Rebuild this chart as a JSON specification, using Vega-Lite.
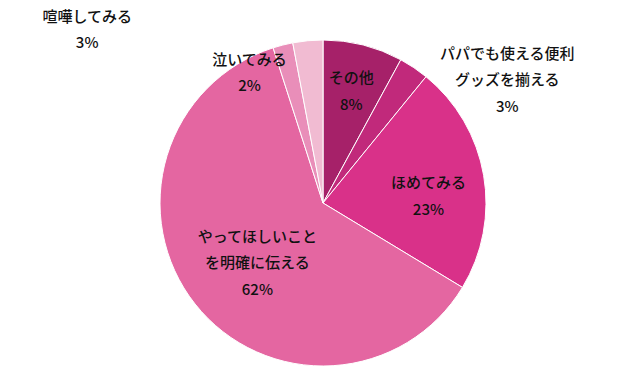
{
  "$schema": "https://vega.github.io/schema/vega-lite/v6.json",
  "autosize": "none",
  "width": 326,
  "height": 326,
  "padding": {"left": 160, "top": 40, "right": 154, "bottom": 18},
  "background": "white",
  "config": {"view": {"stroke": null}},
  "data": {"values": [
    {"key": "その他", "rank": 1, "value": 8, "text": "その他\n8%"},
    {"key": "パパでも使える便利グッズを揃える", "rank": 2, "value": 3, "text": "パパでも使える便利\nグッズを揃える\n3%"},
    {"key": "ほめてみる", "rank": 3, "value": 23, "text": "ほめてみる\n23%"},
    {"key": "やってほしいことを明確に伝える", "rank": 4, "value": 62, "text": "やってほしいこと\nを明確に伝える\n62%"},
    {"key": "泣いてみる", "rank": 5, "value": 2, "text": "泣いてみる\n2%"},
    {"key": "喧嘩してみる", "rank": 6, "value": 3, "text": "喧嘩してみる\n3%"}
  ]},
  "encoding": {
    "theta": {"field": "value", "type": "quantitative", "stack": true},
    "order": {"field": "rank", "type": "quantitative", "sort": "ascending"}
  },
  "layer": [
    {
      "mark": {"type": "arc", "radius": 163, "stroke": "white", "strokeWidth": 1},
      "encoding": {
        "color": {"field": "key", "type": "nominal", "legend": null,
          "scale": {"domain": ["その他", "パパでも使える便利グッズを揃える", "ほめてみる", "やってほしいことを明確に伝える", "泣いてみる", "喧嘩してみる"],
                    "range": ["#a62169", "#c1297b", "#d93189", "#e466a1", "#e98eb9", "#f1bbd2"]}}
      }
    },
    {
      "mark": {"type": "text", "radius": 115, "dx": 0, "dy": -13.5, "font": "Noto Sans CJK JP", "fontSize": 15, "fontWeight": 500, "lineHeight": 27, "lineBreak": "\n", "align": "center", "baseline": "middle", "color": "#111111"},
      "encoding": {"text": {"condition": {"test": "datum.rank == 1", "field": "text"}, "value": ""}}
    },
    {
      "mark": {"type": "text", "radius": 180, "dx": 84, "dy": 0, "font": "Noto Sans CJK JP", "fontSize": 15, "fontWeight": 500, "lineHeight": 26.5, "lineBreak": "\n", "align": "center", "baseline": "middle", "color": "#111111"},
      "encoding": {"text": {"condition": {"test": "datum.rank == 2", "field": "text"}, "value": ""}}
    },
    {
      "mark": {"type": "text", "radius": 105, "dx": 2, "dy": -2.5, "font": "Noto Sans CJK JP", "fontSize": 15, "fontWeight": 500, "lineHeight": 27, "lineBreak": "\n", "align": "center", "baseline": "middle", "color": "#111111"},
      "encoding": {"text": {"condition": {"test": "datum.rank == 3", "field": "text"}, "value": ""}}
    },
    {
      "mark": {"type": "text", "radius": 90, "dx": 5, "dy": -22, "font": "Noto Sans CJK JP", "fontSize": 15, "fontWeight": 500, "lineHeight": 26.5, "lineBreak": "\n", "align": "center", "baseline": "middle", "color": "#111111"},
      "encoding": {"text": {"condition": {"test": "datum.rank == 4", "field": "text"}, "value": ""}}
    },
    {
      "mark": {"type": "text", "radius": 140, "dx": -39, "dy": -7, "font": "Noto Sans CJK JP", "fontSize": 15, "fontWeight": 500, "lineHeight": 26, "lineBreak": "\n", "align": "center", "baseline": "middle", "color": "#111111"},
      "encoding": {"text": {"condition": {"test": "datum.rank == 5", "field": "text"}, "value": ""}}
    },
    {
      "mark": {"type": "text", "radius": 170, "dx": -220, "dy": -17, "font": "Noto Sans CJK JP", "fontSize": 15, "fontWeight": 500, "lineHeight": 26, "lineBreak": "\n", "align": "center", "baseline": "middle", "color": "#111111"},
      "encoding": {"text": {"condition": {"test": "datum.rank == 6", "field": "text"}, "value": ""}}
    }
  ]
}
